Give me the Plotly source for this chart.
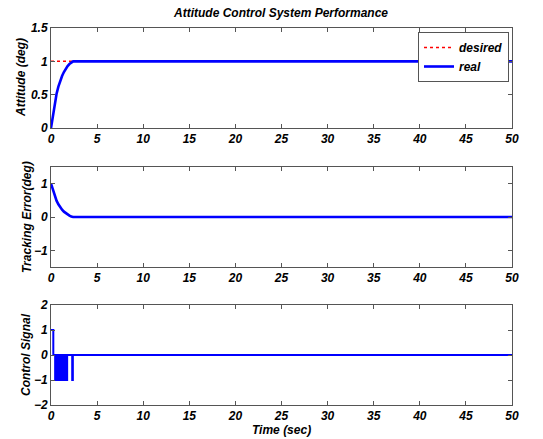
import plotly.graph_objects as go

# ---- data ----
att_t = [0, 0.1, 0.2, 0.3, 0.4, 0.5, 0.6, 0.8, 1.0, 1.2, 1.4, 1.6, 1.8, 2.0, 2.2, 2.4, 50]
att_real = [0, 0.09, 0.18, 0.27, 0.36, 0.44, 0.51, 0.62, 0.71, 0.78, 0.84, 0.89, 0.93, 0.96, 0.985, 1.0, 1.0]
desired_t = [0, 50]
desired = [1, 1]
err = [1, 0.91, 0.82, 0.73, 0.64, 0.56, 0.49, 0.38, 0.29, 0.22, 0.16, 0.11, 0.07, 0.04, 0.015, 0.0, 0.0]

ctrl_t = [0, 0.25, 0.45, 0.5, 0.55, 0.6, 0.65, 0.7, 0.75, 0.8, 0.85, 0.9, 0.95, 1.0,
          1.05, 1.1, 1.15, 1.2, 1.25, 1.3, 1.35, 1.5, 1.55, 1.7, 1.75, 2.3, 2.37, 50]
ctrl_u = [1, 0, -1, 0, -1, 0, -1, 0, -1, 0, -1, 0, -1, 0,
          -1, 0, -1, 0, -1, 0, 0, -1, 0, -1, 0, -1, 0, 0]

x_ticks = [0, 5, 10, 15, 20, 25, 30, 35, 40, 45, 50]

W, H = 543, 439
L, R, T, B = 51, 31, 28, 34
FONT = dict(family="Liberation Sans, Arial", size=12, color="black", weight="bold", style="italic")

fig = go.Figure()
fig.add_trace(go.Scatter(x=desired_t, y=desired, mode="lines", name="desired",
                         line=dict(color="#ff0000", width=1.5, dash="dot"), xaxis="x", yaxis="y"))
fig.add_trace(go.Scatter(x=att_t, y=att_real, mode="lines", name="real",
                         line=dict(color="#0000ff", width=2.6), xaxis="x", yaxis="y"))
fig.add_trace(go.Scatter(x=att_t, y=err, mode="lines", showlegend=False,
                         line=dict(color="#0000ff", width=2.6), xaxis="x2", yaxis="y2"))
fig.add_trace(go.Scatter(x=ctrl_t, y=ctrl_u, mode="lines", showlegend=False, line_shape="hv",
                         line=dict(color="#0000ff", width=2), xaxis="x3", yaxis="y3"))

ax_common = dict(showline=True, linecolor="#555555", linewidth=1, mirror="ticks",
                 ticks="inside", ticklen=4, tickcolor="#555555", showgrid=False,
                 zeroline=False, tickfont=FONT, automargin=False)

ph = H - T - B
def dom(top_px, bot_px):
    return [1 - (bot_px - T) / ph, 1 - (top_px - T) / ph]

def px_x(xp):
    return (xp - L) / (W - L - R)

def px_y(yp):
    return 1 - (yp - T) / ph

fig.update_layout(
    width=W, height=H,
    margin=dict(l=L, r=R, t=T, b=B),
    paper_bgcolor="white", plot_bgcolor="white",
    xaxis=dict(ax_common, range=[0, 50], tickvals=x_ticks, anchor="y"),
    yaxis=dict(ax_common, range=[0, 1.5], tickvals=[0, 0.5, 1, 1.5], ticktext=["0", "0.5", "1", "1.5"],
               domain=dom(28, 128), anchor="x"),
    xaxis2=dict(ax_common, range=[0, 50], tickvals=x_ticks, anchor="y2"),
    yaxis2=dict(ax_common, range=[-1.5, 1.5], tickvals=[-1, 0, 1],
                domain=dom(167, 267), anchor="x2"),
    xaxis3=dict(ax_common, range=[0, 50], tickvals=x_ticks, anchor="y3"),
    yaxis3=dict(ax_common, range=[-2, 2], tickvals=[-2, -1, 0, 1, 2],
                domain=dom(305, 405), anchor="x3"),
    legend=dict(x=px_x(509), y=px_y(32), xanchor="right", yanchor="top", xref="paper", yref="paper",
                bgcolor="white", bordercolor="#555555", borderwidth=1,
                font=FONT, tracegroupgap=0, itemwidth=30),
    showlegend=True,
)

annots = [
    dict(text="Attitude Control System Performance", x=px_x(280), y=px_y(13), size=12, angle=0),
    dict(text="Attitude (deg)", x=px_x(21), y=px_y(78), size=12, angle=-90),
    dict(text="Tracking Error(deg)", x=px_x(27), y=px_y(217), size=12, angle=-90),
    dict(text="Control Signal", x=px_x(26), y=px_y(355), size=12, angle=-90),
    dict(text="Time (sec)", x=px_x(281), y=px_y(430), size=12, angle=0),
]
for a in annots:
    fig.add_annotation(text=a["text"], x=a["x"], y=a["y"], xref="paper", yref="paper",
                       xanchor="center", yanchor="middle", showarrow=False,
                       textangle=a["angle"], font=dict(FONT, size=a["size"]))

fig.write_html("out.html")
